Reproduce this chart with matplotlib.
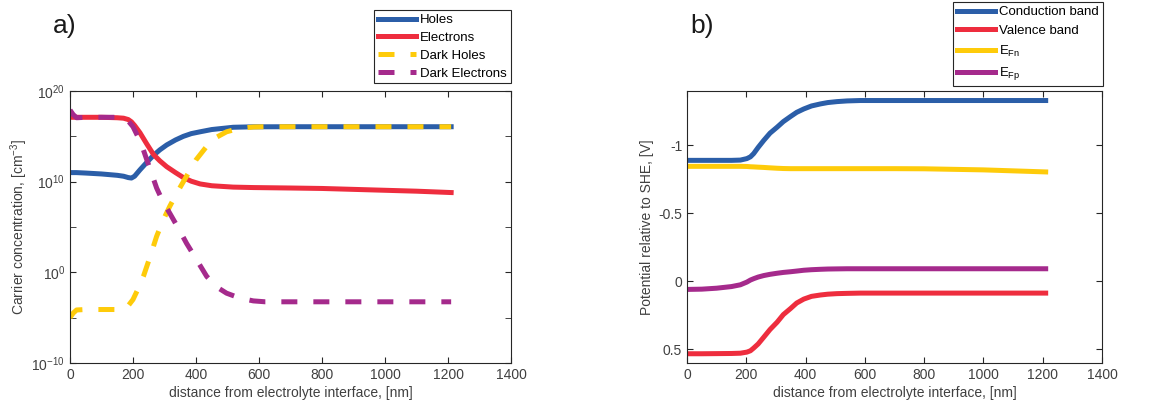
import numpy as np
import matplotlib
matplotlib.use("Agg")
import matplotlib.pyplot as plt
from matplotlib.ticker import FixedLocator

plt.rcParams['font.family'] = ['Liberation Sans', 'DejaVu Sans']
plt.rcParams['mathtext.fontset'] = 'custom'
plt.rcParams['mathtext.rm'] = 'Liberation Sans'
plt.rcParams['mathtext.it'] = 'Liberation Sans'

# ---- panel a: carrier concentrations (log10 of cm^-3) ----
xa = [0, 20, 50, 100, 150, 170, 185, 195, 205, 222, 243, 265, 285, 307, 335, 360, 385, 413, 450, 518, 582, 700, 800, 900, 1000, 1100, 1210]
holes_log = [11.0, 11.0, 10.95, 10.85, 10.7, 10.6, 10.45, 10.4, 10.6, 11.3, 12.1, 12.9, 13.5, 14.05, 14.6, 15.0, 15.3, 15.5, 15.75, 16.0, 16.05, 16.06, 16.06, 16.06, 16.06, 16.06, 16.06]
electrons_log = [17.1, 17.1, 17.1, 17.1, 17.05, 17.0, 16.85, 16.6, 16.2, 15.4, 14.2, 13.0, 12.3, 11.65, 11.0, 10.45, 10.05, 9.75, 9.55, 9.4, 9.35, 9.3, 9.25, 9.15, 9.05, 8.95, 8.8]

xd = [0, 10, 21, 50, 100, 150, 180, 200, 215, 233, 255, 275, 295, 317, 345, 370, 400, 434, 465, 497, 540, 582, 620, 800, 1000, 1210]
dark_holes_log = [-5.0, -4.5, -4.15, -4.1, -4.1, -4.1, -3.9, -3.0, -1.9, -0.45, 1.8, 3.97, 5.7, 7.3, 9.1, 10.6, 12.4, 13.9, 14.9, 15.5, 15.9, 16.03, 16.06, 16.06, 16.06, 16.06]
dark_electrons_log = [17.9, 17.4, 17.05, 17.1, 17.1, 17.1, 16.9, 16.06, 15.0, 13.5, 11.3, 9.3, 7.8, 6.5, 4.8, 3.2, 1.5, -0.45, -1.6, -2.3, -2.85, -3.15, -3.25, -3.25, -3.25, -3.25]

# ---- panel b: band energies vs SHE [V] ----
xb = [0, 50, 100, 150, 180, 202, 214, 225, 240, 259, 280, 304, 325, 349, 370, 394, 420, 450, 475, 506, 540, 585, 700, 800, 1000, 1210]
conduction = [-0.89, -0.89, -0.89, -0.89, -0.892, -0.903, -0.916, -0.94, -0.985, -1.037, -1.09, -1.134, -1.175, -1.212, -1.243, -1.268, -1.29, -1.305, -1.315, -1.322, -1.327, -1.33, -1.33, -1.33, -1.33, -1.33]
valence = [0.532, 0.532, 0.531, 0.53, 0.528, 0.52, 0.51, 0.49, 0.46, 0.41, 0.354, 0.3, 0.244, 0.2, 0.159, 0.13, 0.11, 0.1, 0.094, 0.09, 0.088, 0.086, 0.086, 0.086, 0.086, 0.086]
efn = [-0.846, -0.846, -0.846, -0.846, -0.846, -0.845, -0.843, -0.842, -0.84, -0.838, -0.835, -0.832, -0.83, -0.829, -0.829, -0.829, -0.829, -0.829, -0.829, -0.829, -0.829, -0.829, -0.829, -0.828, -0.82, -0.805]
efp = [0.059, 0.057, 0.05, 0.038, 0.025, 0.005, -0.01, -0.02, -0.032, -0.043, -0.052, -0.06, -0.066, -0.071, -0.076, -0.082, -0.086, -0.089, -0.091, -0.092, -0.093, -0.093, -0.093, -0.093, -0.093, -0.093]

blue = '#2b5ea8'
red = '#ee2d3e'
yellow = '#fecb0a'
purple = '#a52a8c'
lw = 3.6
tick_col = '#404040'

fig = plt.figure(figsize=(11.55, 4.12), dpi=100)


def style_axes(ax):
    for s in ax.spines.values():
        s.set_color('#262626')
        s.set_linewidth(0.8)
    ax.tick_params(which='both', direction='in', top=True, right=True,
                   colors='#262626', labelcolor=tick_col, labelsize=10, length=4)
    ax.set_xlim(0, 1400)
    ax.set_xticks(range(0, 1401, 200))
    ax.set_xlabel('distance from electrolyte interface, [nm]', fontsize=10, color=tick_col, labelpad=3)


def style_legend(leg):
    leg.get_frame().set_edgecolor('#262626')
    leg.get_frame().set_linewidth(0.8)


leg_kw = dict(bbox_transform=fig.transFigure, fontsize=9.5, handlelength=2.9,
              handletextpad=0.3, borderpad=0.3, fancybox=False, framealpha=1,
              borderaxespad=0, loc='upper right')

ax1 = fig.add_axes([70 / 1155, 49 / 412, 441 / 1155, 272 / 412])
ax1.semilogy(xa, 10.0 ** np.array(holes_log), color=blue, lw=lw, label='Holes')
ax1.semilogy(xa, 10.0 ** np.array(electrons_log), color=red, lw=lw, label='Electrons')
ax1.semilogy(xd, 10.0 ** np.array(dark_holes_log), color=yellow, lw=lw, dashes=(3.2, 3.2), label='Dark Holes')
ax1.semilogy(xd, 10.0 ** np.array(dark_electrons_log), color=purple, lw=lw, dashes=(3.2, 3.2), label='Dark Electrons')
ax1.set_ylim(1e-10, 1e20)
ax1.yaxis.set_major_locator(FixedLocator([1e-10, 1e0, 1e10, 1e20]))
ax1.yaxis.set_minor_locator(FixedLocator([1e-5, 1e5, 1e15]))
ax1.yaxis.set_minor_formatter(plt.NullFormatter())
style_axes(ax1)
ax1.set_ylabel('Carrier concentration, [cm$^{-3}$]', fontsize=10, color=tick_col, labelpad=1)
leg1 = ax1.legend(bbox_to_anchor=(511 / 1155, 402 / 412), labelspacing=0.42, **leg_kw)
style_legend(leg1)

ax2 = fig.add_axes([687 / 1155, 49 / 412, 415 / 1155, 272 / 412])
ax2.plot(xb, conduction, color=blue, lw=lw, label='Conduction band')
ax2.plot(xb, valence, color=red, lw=lw, label='Valence band')
ax2.plot(xb, efn, color=yellow, lw=lw, label='E$_{Fn}$')
ax2.plot(xb, efp, color=purple, lw=lw, label='E$_{Fp}$')
ax2.set_ylim(0.6, -1.4)
ax2.set_yticks([-1, -0.5, 0, 0.5])
ax2.set_yticklabels(['-1', '-0.5', '0', '0.5'])
style_axes(ax2)
ax2.set_ylabel('Potential relative to SHE, [V]', fontsize=10, color=tick_col, labelpad=3)
leg2 = ax2.legend(bbox_to_anchor=(1103 / 1155, 410 / 412), labelspacing=0.5, **leg_kw)
style_legend(leg2)

fig.text(53 / 1155, 1 - 26 / 412, 'a)', fontsize=19, va='center', ha='left', color='#1a1a1a')
fig.text(690 / 1155, 1 - 26 / 412, 'b)', fontsize=19, va='center', ha='left', color='#1a1a1a')

fig.savefig('out.png', dpi=100)
